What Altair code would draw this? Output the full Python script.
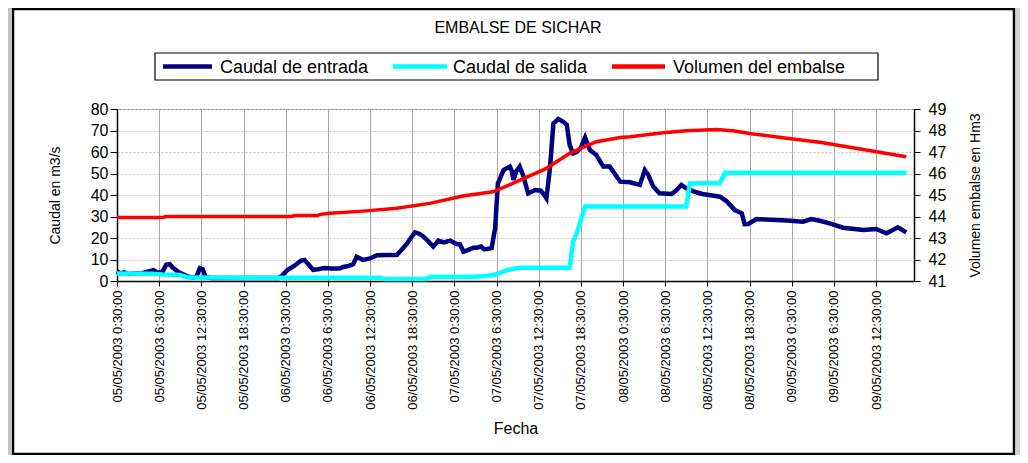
import json
import altair as alt
import pandas as pd

FONT = "Liberation Sans"

# --- data (hours after 05/05/2003 0:30:00) ---
in_t = [0, 0.5, 1.0, 1.5, 2.5, 3.5, 4.5, 5.2, 5.8, 6.5, 7.0, 7.5, 8.0, 8.8, 9.5, 10.2, 10.8, 11.3,
        11.8, 12.2, 12.6, 13.5, 23.0, 23.5, 24.2, 25.2, 26.2, 26.7, 27.3, 27.9, 28.6, 29.5, 30.5,
        31.7, 32.2, 33.0, 33.6, 34.1, 34.6, 35.0, 36.0, 37.0, 38.5, 39.8, 40.5, 41.2, 41.8, 42.4,
        43.0, 43.6, 44.3, 45.0, 45.7, 46.5, 47.4, 48.3, 48.8, 49.3, 50.0, 50.7, 51.2, 51.8, 52.2,
        52.6, 53.3, 53.8, 54.2, 55.0, 55.9, 56.2, 56.4, 56.8, 57.3, 57.8, 58.5, 59.5, 60.3, 60.8,
        61.1, 61.6, 62.1, 62.8, 63.5, 64.0, 64.4, 64.9, 65.4, 66.0, 66.6, 67.3, 68.2, 69.2, 70.1,
        70.8, 71.6, 73.0, 74.4, 75.1, 75.6, 76.3, 77.2, 78.9, 79.5, 80.3, 81.0, 82.2, 83.3, 85.8,
        86.7, 87.9, 88.9, 89.3, 89.8, 91.0, 93.0, 95.3, 97.6, 98.8, 100.0, 101.4, 103.3, 106.2,
        108.0, 109.5, 111.1, 112.3]
in_q = [4.5, 3.5, 4.0, 3.3, 3.5, 3.5, 4.5, 5.0, 3.8, 4.5, 7.5, 7.8, 6.0, 4.0, 3.0, 2.0, 1.5, 2.0,
        6.0, 5.5, 1.8, 1.4, 1.4, 2.5, 5.0, 7.0, 9.5, 9.8, 7.5, 5.2, 5.5, 6.0, 5.8,
        5.8, 6.5, 7.0, 7.8, 11.3, 10.5, 9.8, 10.5, 12.0, 12.1, 12.1, 14.5, 17.1, 20.0, 22.6,
        22.0, 20.6, 18.5, 16.0, 18.8, 18.0, 18.8, 17.2, 17.0, 13.6, 14.5, 15.5, 15.5, 16.0, 14.8,
        14.9, 15.3, 24.5, 45.4, 51.6, 53.2, 51.0, 47.0, 51.0, 53.2, 49.0, 40.8, 42.3, 42.0, 40.0,
        38.5, 52.4, 73.3, 75.3, 74.0, 72.6, 63.3, 59.4, 60.0, 62.0, 66.7, 60.9, 58.6, 53.2, 53.2,
        50.0, 46.2, 45.9, 44.7, 51.6, 49.3, 43.9, 40.8, 40.5, 42.0, 44.7, 43.1, 41.5, 40.5, 39.2,
        37.2, 33.0, 31.5, 26.4, 26.5, 28.8, 28.5, 28.1, 27.6, 28.8, 28.0, 26.8, 24.8, 23.7,
        24.2, 22.2, 25.0, 22.6]

out_t = [0, 5.0, 6.5, 9.0, 10.2, 30.0, 37.5, 38.0, 44.0, 44.5, 51.0, 53.0, 54.0, 55.5, 57.3,
         64.4, 64.9, 65.5, 66.6, 81.0, 81.5, 85.8, 86.5, 112.3]
out_q = [3.5, 3.4, 3.0, 2.8, 1.6, 1.5, 1.5, 0.9, 0.9, 2.0, 2.0, 2.5, 3.1, 5.0, 6.2,
         6.2, 18.3, 23.0, 34.6, 34.6, 45.4, 45.6, 50.4, 50.4]

vol_t = [0, 6.5, 6.9, 24.8, 25.3, 28.5, 29.0, 30.3, 35.0, 39.8, 44.5, 49.2, 53.5, 56.3, 61.1,
         64.4, 68.2, 71.6, 73.0, 77.7, 81.0, 85.3, 87.6, 90.5, 95.3, 100.0, 104.7, 112.3]
vol_v = [43.95, 43.95, 44.0, 44.0, 44.05, 44.05, 44.1, 44.15, 44.25, 44.38, 44.61, 44.95, 45.15,
         45.54, 46.24, 46.94, 47.48, 47.67, 47.71, 47.9, 47.99, 48.05, 47.99, 47.84, 47.64,
         47.45, 47.2, 46.78]

series = ["Caudal de entrada", "Caudal de salida", "Volumen del embalse"]
colors = ["#000080", "#00ffff", "#ff0000"]

tick_hours = [0, 6, 12, 18, 24, 30, 36, 42, 48, 54, 60, 66, 72, 78, 84, 90, 96, 102, 108]
tick_labels = ["05/05/2003 0:30:00", "05/05/2003 6:30:00", "05/05/2003 12:30:00",
               "05/05/2003 18:30:00", "06/05/2003 0:30:00", "06/05/2003 6:30:00",
               "06/05/2003 12:30:00", "06/05/2003 18:30:00", "07/05/2003 0:30:00",
               "07/05/2003 6:30:00", "07/05/2003 12:30:00", "07/05/2003 18:30:00",
               "08/05/2003 0:30:00", "08/05/2003 6:30:00", "08/05/2003 12:30:00",
               "08/05/2003 18:30:00", "09/05/2003 0:30:00", "09/05/2003 6:30:00",
               "09/05/2003 12:30:00"]
left_ticks = [0, 10, 20, 30, 40, 50, 60, 70, 80]
right_ticks = [41, 42, 43, 44, 45, 46, 47, 48, 49]

df_in = pd.DataFrame({"t": in_t, "v": in_q})
df_out = pd.DataFrame({"t": out_t, "v": out_q})
df_vol = pd.DataFrame({"t": vol_t, "v": vol_v})
one = pd.DataFrame({"a": [0]})

x_enc = alt.X(
    "t:Q",
    scale=alt.Scale(domain=[0, 113.4], nice=False, zero=False),
    axis=alt.Axis(
        values=tick_hours,
        labelExpr=f"{json.dumps(tick_labels)}[round(datum.value/6)]",
        labelAngle=270, labelAlign="right", labelBaseline="middle",
        labelFont=FONT, labelFontSize=13, labelColor="black", labelPadding=4,
        labelOverlap=False, labelFlush=False,
        tickSize=5, tickColor="black", domainColor="black", domainWidth=1.5,
        grid=True, gridColor="#a8a8a8", gridWidth=1,
        title="Fecha", titleFont=FONT, titleFontSize=16, titleFontWeight="normal",
        titleColor="black", titleY=152, titleBaseline="alphabetic",
    ),
)

y_left = alt.Y(
    "v:Q",
    scale=alt.Scale(domain=[0, 80], nice=False, zero=False),
    axis=alt.Axis(
        values=left_ticks, grid=True, gridColor="#c0c0c0", gridDash=[2, 2],
        tickSize=7, tickColor="black", domainColor="black", domainWidth=1.5,
        labelFont=FONT, labelFontSize=16, labelColor="black", labelPadding=2,
        title="Caudal en m3/s", titleFont=FONT, titleFontSize=14, titleFontWeight="normal",
        titleColor="black", titleX=-55, titleY=86, titleAngle=270,
        titleBaseline="bottom", titleAlign="center",
    ),
)

y_right = alt.Y(
    "v:Q",
    scale=alt.Scale(domain=[41, 49], nice=False, zero=False),
    axis=alt.Axis(
        orient="right", values=right_ticks, grid=False,
        tickSize=6, tickColor="black", domainColor="black", domainWidth=1.5,
        labelFont=FONT, labelFontSize=16, labelColor="black", labelPadding=8,
        title="Volumen embalse en Hm3", titleFont=FONT, titleFontSize=14,
        titleFontWeight="normal", titleColor="black", titleX=68, titleY=86,
        titleAngle=270, titleBaseline="bottom", titleAlign="center",
    ),
)

# decorations: outer frame, side strips, title
frame = alt.Chart(one).mark_rect(fillOpacity=0, stroke="black", strokeWidth=2.5).encode(
    x=alt.value(-104), x2=alt.value(897), y=alt.value(-100), y2=alt.value(345)
)
strip_r = alt.Chart(one).mark_rect(color="#d4d4d4").encode(
    x=alt.value(899), x2=alt.value(904), y=alt.value(-101), y2=alt.value(346)
)
strip_l = alt.Chart(one).mark_rect(color="#c4c4c4").encode(
    x=alt.value(-109), x2=alt.value(-105.5), y=alt.value(-101), y2=alt.value(346)
)
title = alt.Chart(one).mark_text(
    text="EMBALSE DE SICHAR", font=FONT, fontSize=16, color="black",
    align="center", baseline="middle",
).encode(x=alt.value(401), y=alt.value(-81))

# legend box, built from the series names and colours
leg_box = alt.Chart(one).mark_rect(fill="white", stroke="black", strokeWidth=1.2).encode(
    x=alt.value(38), x2=alt.value(761), y=alt.value(-56), y2=alt.value(-29)
)
leg_sym_x = [(46, 95), (276, 330), (495, 548)]
leg_txt_x = [103, 336, 556]
leg_layers = [leg_box]
for name, col, (sx1, sx2), tx in zip(series, colors, leg_sym_x, leg_txt_x):
    leg_layers.append(
        alt.Chart(one).mark_rule(color=col, strokeWidth=4.5).encode(
            x=alt.value(sx1), x2=alt.value(sx2), y=alt.value(-42.5)
        )
    )
    leg_layers.append(
        alt.Chart(one).mark_text(
            text=name, font=FONT, fontSize=18, color="black", align="left", baseline="middle"
        ).encode(x=alt.value(tx), y=alt.value(-41.5))
    )

line_in = alt.Chart(df_in).mark_line(strokeWidth=4.5, color=colors[0]).encode(x=x_enc, y=y_left)
line_out = alt.Chart(df_out).mark_line(strokeWidth=4.5, color=colors[1]).encode(x=x_enc, y=y_left)
line_vol = alt.Chart(df_vol).mark_line(strokeWidth=3.5, color=colors[2]).encode(x=x_enc, y=y_right)

left = alt.layer(frame, strip_r, strip_l, title, *leg_layers, line_in, line_out)
chart = (
    alt.layer(left, line_vol)
    .resolve_scale(y="independent")
    .properties(
        width=797, height=172,
        padding={"left": 109, "top": 101, "right": 106, "bottom": 174},
        autosize=alt.AutoSizeParams(type="none"),
        background="white",
    )
    .configure_view(stroke="#808080", strokeWidth=1)
)

chart.save("out.html", embed_options={"renderer": "svg", "actions": False})
